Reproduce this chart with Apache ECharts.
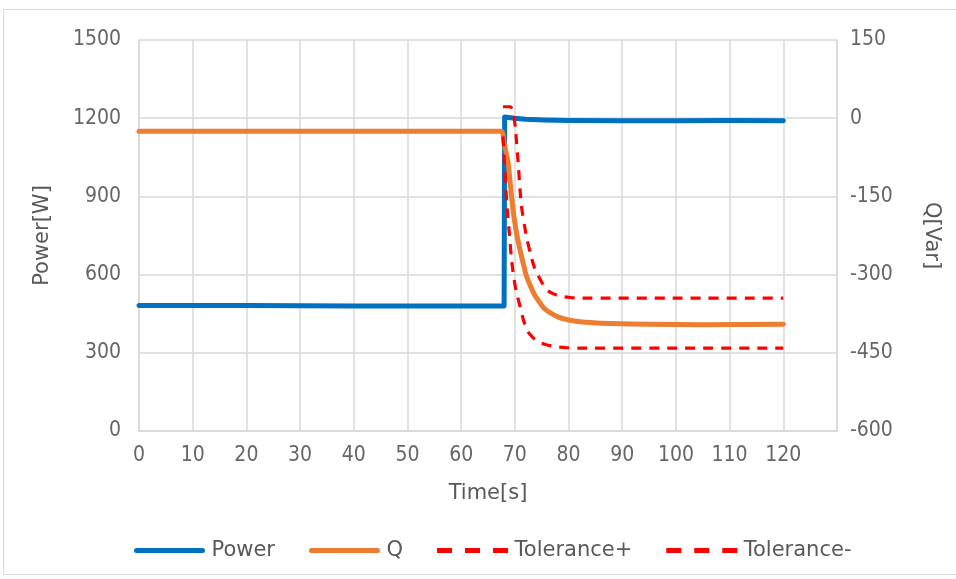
<!DOCTYPE html>
<html><head><meta charset="utf-8">
<script src="https://cdn.jsdelivr.net/npm/echarts@6/dist/echarts.min.js"></script>
<style>html,body{margin:0;padding:0;background:#fff}#c{width:956px;height:579px}</style>
</head><body><div id="c"></div>
<script>
var TICKFONT = '"DejaVu Sans Condensed", "Liberation Sans Narrow", sans-serif';
var FONT = '"DejaVu Sans", "Noto Sans", sans-serif';
var xTicks = [0,10,20,30,40,50,60,70,80,90,100,110,120];
var powerT = [0, 20, 40, 60, 68.0, 68.1, 68.4, 70.0, 72, 75.5, 80, 90, 100, 110, 120];
var powerV = [481, 481, 480, 480, 480, 1205, 1209, 1200, 1196, 1193, 1191, 1190, 1190, 1191, 1190];
var qT = [0, 20, 40, 60, 67.5, 67.97, 68.35, 68.72, 69.05, 69.35, 69.65, 69.96, 70.4, 70.9, 71.5, 72.1, 72.9, 73.7, 74.6, 75.5, 76.7, 78.0, 79.5, 81.1, 84, 88, 95, 105, 120];
var qV = [-25, -25, -25, -25, -25, -45, -65, -83, -115, -147, -174, -198, -225, -250, -276, -301, -322, -339, -353, -365, -374, -381, -386, -389, -392, -394, -395, -396, -395];
var tolPT = [67.8, 69.2, 69.7, 70.1, 70.6, 71.2, 72.1, 72.9, 73.7, 74.8, 75.9, 77.2, 78.7, 80.5, 82, 100, 120];
var tolPV = [22, 22, 12, -19, -83, -166, -224, -260, -288, -311, -329, -337, -342, -344, -345, -345, -345];
var tolMT = [67.8, 68.1, 68.4, 68.7, 69.0, 69.3, 69.65, 70.2, 70.9, 71.6, 72.4, 73.3, 74.3, 75.7, 77.4, 79.5, 82, 100, 120];
var tolMV = [-35, -90, -147, -190, -224, -262, -294, -330, -358, -387, -409, -420, -429, -434, -438, -440, -441, -441, -441];

function pairs(t, v){ return t.map(function(x,i){return [x, v[i]];}); }

var chart = echarts.init(document.getElementById('c'));
var txt = '#595959';
var tickTxt = '#666666';
var dashIcon = 'path://M0,0h15v5h-15z M28,0h15v5h-15z M56,0h15v5h-15z';
var solidIcon = 'path://M2.5,0h66a2.5,2.5 0 0 1 0,5h-66a2.5,2.5 0 0 1 0,-5z';
chart.setOption({
  animation:false,
  textStyle:{fontFamily:FONT},
  graphic:[{type:'rect', shape:{x:3.5,y:9.5,width:960,height:565}, style:{fill:'none', stroke:'#d9d9d9', lineWidth:1}, silent:true}],
  grid:{left:139, right:119, top:40, bottom:148, containLabel:false},
  legend:{
    bottom:13, left:129, itemWidth:72, itemHeight:5, itemGap:34,
    textStyle:{color:txt, fontSize:21, fontFamily:FONT, padding:[0,0,0,1]},
    data:[{name:'Power', icon:solidIcon},{name:'Q', icon:solidIcon},{name:'Tolerance+', icon:dashIcon},{name:'Tolerance-', icon:dashIcon}]
  },
  xAxis:{
    type:'value', min:0, max:130, interval:10,
    name:'Time[s]', nameLocation:'middle', nameGap:52,
    nameTextStyle:{color:txt, fontSize:21, fontFamily:FONT},
    axisLine:{show:true, lineStyle:{color:'#d9d9d9', width:1.5}},
    axisTick:{show:false},
    axisLabel:{color:tickTxt, fontSize:21, margin:14, fontFamily:TICKFONT,
      formatter:function(v){ return xTicks.indexOf(v) >= 0 ? String(v) : ''; }},
    splitLine:{show:true, lineStyle:{color:'#d9d9d9', width:1.5}}
  },
  yAxis:[{
    type:'value', min:0, max:1500, interval:300,
    name:'Power[W]', nameLocation:'middle', nameGap:86, nameRotate:90,
    nameTextStyle:{color:txt, fontSize:21, fontFamily:FONT},
    axisLine:{show:true, lineStyle:{color:'#d9d9d9', width:1.5}},
    axisTick:{show:false},
    axisLabel:{color:tickTxt, fontSize:21, margin:18, fontFamily:TICKFONT, formatter:function(v){return String(v);}},
    splitLine:{show:true, lineStyle:{color:'#d9d9d9', width:1.5}}
  },{
    type:'value', min:-600, max:150, interval:150,
    name:'Q[Var]', nameLocation:'middle', nameGap:84, nameRotate:-90,
    nameTextStyle:{color:txt, fontSize:21, fontFamily:FONT},
    axisLine:{show:true, lineStyle:{color:'#d9d9d9', width:1.5}},
    axisTick:{show:false},
    axisLabel:{color:tickTxt, fontSize:21, margin:13, fontFamily:TICKFONT, formatter:function(v){return String(v);}},
    splitLine:{show:false}
  }],
  series:[
    {name:'Power', type:'line', yAxisIndex:0, showSymbol:false, symbol:'none',
     data:pairs(powerT, powerV), lineStyle:{color:'#0070C0', width:5, cap:'round', join:'round'}, itemStyle:{color:'#0070C0'}, z:3},
    {name:'Q', type:'line', yAxisIndex:1, showSymbol:false, symbol:'none', smooth:0.2,
     data:pairs(qT, qV), lineStyle:{color:'#ED7D31', width:5, cap:'round', join:'round'}, itemStyle:{color:'#ED7D31'}, z:4},
    {name:'Tolerance+', type:'line', yAxisIndex:1, showSymbol:false, symbol:'none', smooth:0.2,
     data:pairs(tolPT, tolPV), lineStyle:{color:'#FF0000', width:3.2, type:[10,8]}, itemStyle:{color:'#FF0000'}, z:5},
    {name:'Tolerance-', type:'line', yAxisIndex:1, showSymbol:false, symbol:'none', smooth:0.2,
     data:pairs(tolMT, tolMV), lineStyle:{color:'#FF0000', width:3.2, type:[10,8]}, itemStyle:{color:'#FF0000'}, z:5}
  ]
});
</script></body></html>
